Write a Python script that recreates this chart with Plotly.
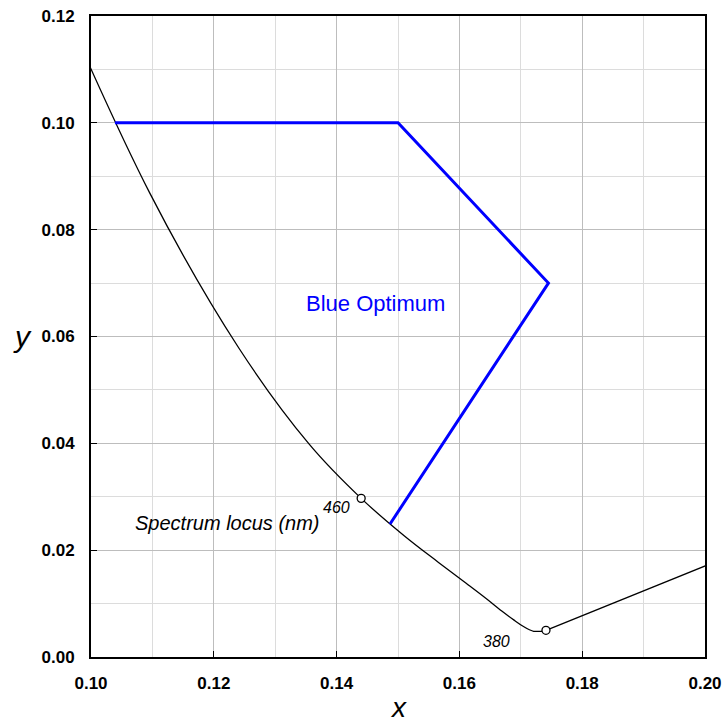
import plotly.graph_objects as go

# CIE 1931 spectrum locus (blue end), nm
wavelengths = [380, 385, 390, 395, 400, 405, 410, 415, 420, 425, 430, 435, 440,
               445, 450, 455, 460, 465, 470, 475, 480]
locus_x = [0.1741, 0.1740, 0.1738, 0.1736, 0.1733, 0.1730, 0.1726, 0.1721, 0.1714,
           0.1703, 0.1689, 0.1669, 0.1644, 0.1611, 0.1566, 0.1510, 0.1440, 0.1355,
           0.1241, 0.1096, 0.0913]
locus_y = [0.0050, 0.0050, 0.0049, 0.0049, 0.0048, 0.0048, 0.0048, 0.0048, 0.0051,
           0.0058, 0.0069, 0.0086, 0.0109, 0.0138, 0.0177, 0.0227, 0.0297, 0.0399,
           0.0578, 0.0868, 0.1327]
# purple line 380 -> 780 nm
purple_x = [0.1741, 0.7347]
purple_y = [0.0050, 0.2653]
# marked wavelengths
marked_nm = [460, 380]
marked_x = [0.1440, 0.1741]
marked_y = [0.0297, 0.0050]
# Blue optimum outline
opt_x = [0.1039, 0.1500, 0.1745, 0.1487]
opt_y = [0.1000, 0.1000, 0.0700, 0.0249]

FONT = "Liberation Sans, Arial, sans-serif"

fig = go.Figure()
fig.add_trace(go.Scatter(x=locus_x, y=locus_y, mode="lines",
                         line=dict(color="black", width=1.3, shape="spline", smoothing=1.0),
                         hoverinfo="skip", showlegend=False))
fig.add_trace(go.Scatter(x=purple_x, y=purple_y, mode="lines",
                         line=dict(color="black", width=1.3),
                         showlegend=False))
fig.add_trace(go.Scatter(x=opt_x, y=opt_y, mode="lines",
                         line=dict(color="#0000ff", width=3),
                         showlegend=False))
fig.add_trace(go.Scatter(x=marked_x, y=marked_y, mode="markers",
                         marker=dict(size=8, color="white", line=dict(color="black", width=1.3)),
                         showlegend=False))

fig.add_annotation(x=0.1464, y=0.0661, text="Blue Optimum", showarrow=False,
                   font=dict(family=FONT, size=22, color="#0000ff"))
fig.add_annotation(x=0.1223, y=0.0251, text="<i>Spectrum locus (nm)</i>", showarrow=False,
                   font=dict(family=FONT, size=20, color="black"))
fig.add_annotation(x=0.1400, y=0.0280, text="<i>%d</i>" % marked_nm[0], showarrow=False,
                   font=dict(family=FONT, size=16, color="black"))
fig.add_annotation(x=0.1660, y=0.0029, text="<i>%d</i>" % marked_nm[1], showarrow=False,
                   font=dict(family=FONT, size=16, color="black"))
# axis titles
fig.add_annotation(x=0.15, xref="x", y=0, yref="paper", yanchor="middle", yshift=-50,
                   text="<i>x</i>", showarrow=False,
                   font=dict(family=FONT, size=28, color="black"))
fig.add_annotation(x=0, xref="paper", xanchor="center", xshift=-69, y=0.06, yref="y",
                   yanchor="middle", yshift=0,
                   text="<i>y</i>", showarrow=False,
                   font=dict(family=FONT, size=30, color="black"))

tick_font = dict(family=FONT, size=17, color="black", weight="bold")
axis_common = dict(
    showline=True, linecolor="black", linewidth=2, mirror=True,
    ticks="inside", ticklen=6, tickcolor="black", tickwidth=1,
    showgrid=True, gridcolor="#bdbdbd", gridwidth=1,
    zeroline=False, tickfont=tick_font, automargin=False,
    ticklabeloverflow="allow",
    minor=dict(showgrid=True, gridcolor="#dcdcdc", gridwidth=1),
)
fig.update_xaxes(range=[0.10, 0.20], dtick=0.02, tick0=0.10, tickformat=".2f",
                 minor_dtick=0.01, ticklabelstandoff=10, **axis_common)
fig.update_yaxes(range=[0.0, 0.12], dtick=0.02, tick0=0.0, tickformat=".2f",
                 minor_dtick=0.01, ticklabelstandoff=11, **axis_common)
fig.update_layout(
    width=724, height=724,
    margin=dict(l=91, r=19, t=16, b=67),
    plot_bgcolor="white", paper_bgcolor="white",
    font=dict(family=FONT, size=16, color="black"),
)
fig.write_html("out.html", config={"displayModeBar": False},
               post_script="document.body.style.margin='0';document.body.style.overflow='hidden';")
